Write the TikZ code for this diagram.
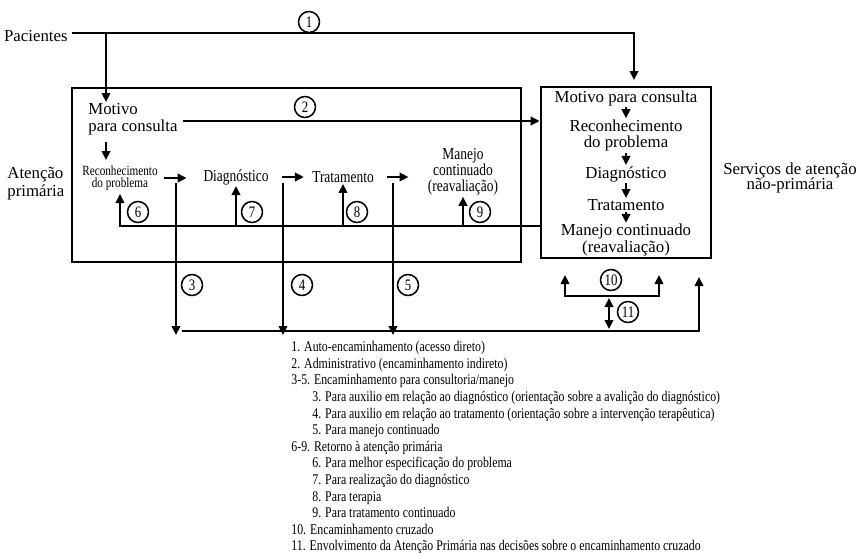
\documentclass[tikz,border=0pt]{standalone}
\usepackage{fontspec}
\setmainfont{Liberation Serif}
\newfontfamily\narrowfont[FakeStretch=0.8]{Liberation Serif}
\usepackage{tikz}
\usetikzlibrary{arrows.meta}
\tikzset{seta/.style={-{Triangle[length=9pt,width=8.5pt]}},
         duplaseta/.style={{Triangle[length=9pt,width=8.5pt]}-{Triangle[length=9pt,width=8.5pt]}},
         caixa/.style={draw,inner sep=0pt},
         txt/.style={inner sep=0pt,font=\fontsize{16.8}{17}\selectfont},
         estreito/.style={inner sep=0pt,font=\narrowfont\fontsize{16.8}{16}\selectfont},
         pequeno/.style={inner sep=0pt,align=center,font=\narrowfont\fontsize{14}{12.5}\selectfont},
         num/.style={draw,circle,line width=1.5pt,minimum size=21pt,inner sep=0pt,
                     font=\narrowfont\fontsize{16}{16}\selectfont},
         legenda/.style={inner sep=0pt,align=left,font=\narrowfont\fontsize{14.8}{16.6}\selectfont}}

\begin{document}
\begin{tikzpicture}[x=1pt,y=-1pt,line width=2.8pt]
\useasboundingbox (0,0) rectangle (863,558);
\node[caixa,minimum width=449pt,minimum height=174pt] (prim) at (296.5,175) {};
\node[caixa,minimum width=170pt,minimum height=171pt] (naoprim) at (626,172.5) {};
\node[txt,anchor=east] (pac) at (69,36.5) {Pacientes};
\node[txt,align=left,anchor=north west,font=\fontsize{16.8}{18}\selectfont] (atp) at (6,166) {Atenção\\primária};
\node[txt,align=center,anchor=north,font=\fontsize{16.8}{15.5}\selectfont] (snp) at (790,161) {Serviços de atenção\\não-primária};
% atencao primaria
\node[txt,align=left,anchor=north west] (motivo) at (87,102) {Motivo\\para consulta};
\node[pequeno] (reco) at (120,178) {Reconhecimento\\do problema};
\node[estreito] (diag) at (236,177) {Diagnóstico};
\node[estreito] (trat) at (343,177) {Tratamento};
\node[estreito,align=center] (manejo) at (463,172) {Manejo\\continuado\\(reavaliação)};
% atencao nao-primaria
\node[txt] (m1) at (626,98) {Motivo para consulta};
\node[txt,align=center,font=\fontsize{16.8}{16.5}\selectfont] (m2) at (626,135.5) {Reconhecimento\\do problema};
\node[txt] (m3) at (626,174) {Diagnóstico};
\node[txt] (m4) at (626,205) {Tratamento};
\node[txt,align=center,font=\fontsize{16.8}{14.5}\selectfont] (m5) at (626,240) {Manejo continuado\\(reavaliação)};
\foreach \a/\b in {m1/m2,m2/m3,m3/m4,m4/m5}
  \draw[seta] (\a) -- (\b);
\coordinate (topo) at (634,80);
\coordinate (ramo) at (106,33);
\coordinate (fundo) at (182,331);
\coordinate (volta) at (699,277);
\coordinate (x1) at (565,275);
\coordinate (x2) at (659,275);
\coordinate (cruz) at (609,296);
\draw[seta,shorten <=3pt] (pac.east |- 0,33) -| (topo);
\draw[seta] (ramo) -- (ramo |- motivo.north);
\draw[seta,shorten <=5pt,shorten >=4pt] (motivo.south -| ramo) -- (reco.north -| ramo);
\draw[seta,shorten <=4pt] (motivo.east |- 0,121) -- (naoprim.west |- 0,121);
\foreach \a/\b/\s/\t in {reco/diag/5.4/15.5,diag/trat/12.5/7,trat/manejo/12/18}
  \draw[seta,shorten <=\s pt,shorten >=\t pt] (\a.east) -- (\a.east -| \b.west);
\draw[seta,shorten >=2pt] (naoprim.west |- 0,226) -| (reco.south);
\foreach \a in {diag,trat,manejo}
  \draw[seta] (\a.south |- 0,226) -- (\a.south);
\foreach \n/\x in {3/176,4/283,5/393}
  {\coordinate (d\n) at (\x,183);
   \draw[seta,shorten >=-4pt] (d\n) -- (d\n |- fundo);}
\draw[seta] (fundo) -| (volta);
\draw[duplaseta] (x1) |- (cruz) -| (x2);
\draw[duplaseta,shorten <=2pt,shorten >=2pt] (cruz) -- (cruz |- fundo);
\foreach \n/\x/\y in {1/309/22,2/305/107,3/192/285,4/302/285,5/408/285,6/138/212,
                      7/252/212,8/357/212,9/480/212,10/611/280,11/628/312}
  \node[num] (c\n) at (\x,\y) {\n};
\node[legenda,anchor=north west] (leg) at (290,340) {1. Auto-encaminhamento (acesso direto)\\
2. Administrativo (encaminhamento indireto)\\
3-5. Encaminhamento para consultoria/manejo\\
\hspace*{21pt}3. Para auxilio em relação ao diagnóstico (orientação sobre a avalição do diagnóstico)\\
\hspace*{21pt}4. Para auxilio em relação ao tratamento (orientação sobre a intervenção terapêutica)\\
\hspace*{21pt}5. Para manejo continuado\\
6-9. Retorno à atenção primária\\
\hspace*{21pt}6. Para melhor especificação do problema\\
\hspace*{21pt}7. Para realização do diagnóstico\\
\hspace*{21pt}8. Para terapia\\
\hspace*{21pt}9. Para tratamento continuado\\
10. Encaminhamento cruzado\\
11. Envolvimento da Atenção Primária nas decisões sobre o encaminhamento cruzado};
\end{tikzpicture}
\end{document}
